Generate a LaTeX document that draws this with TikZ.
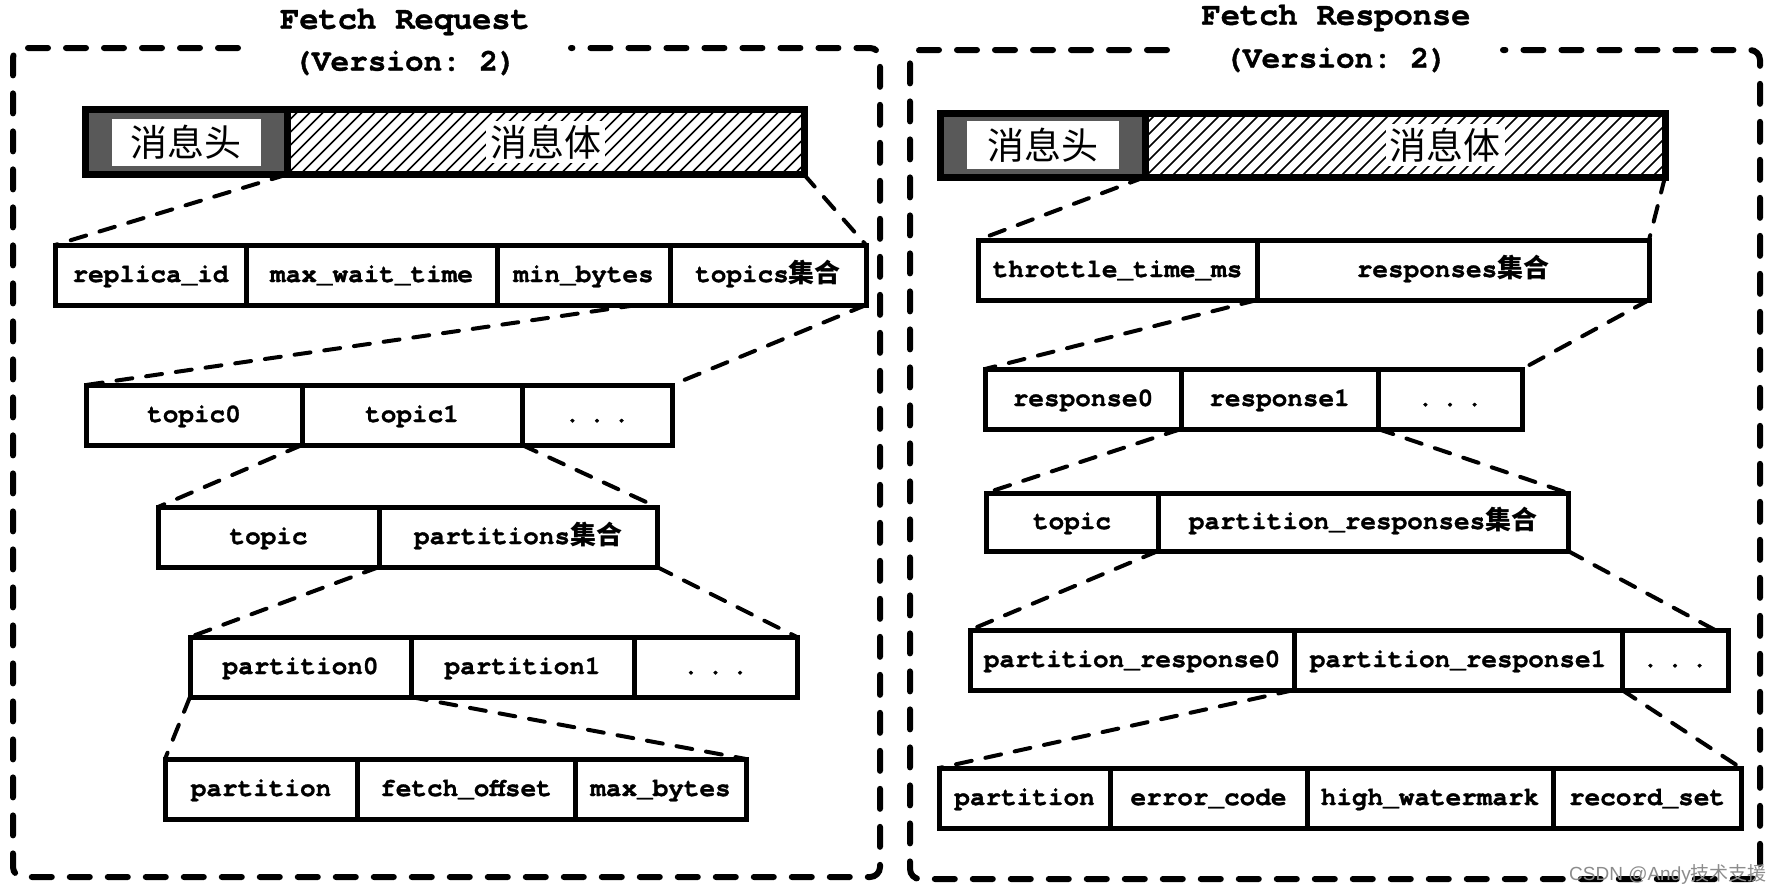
\documentclass[tikz,border=0pt]{standalone}
\usepackage{fontspec}
\usepackage{tikz}
\setmonofont[BoldFeatures={FakeBold=1.2}]{TeX Gyre Cursor}
\newfontfamily\cjk{Noto Sans CJK SC}
\newfontfamily\markfont{Liberation Sans}

\tikzset{
  cell/.style={draw, line width=5pt, outer sep=0pt, inner sep=0pt, minimum height=60pt, text height=19pt, text depth=5pt, anchor=west, font=\fontsize{26}{30}\selectfont\ttfamily\bfseries},
  hdr/.style={draw, line width=7pt, outer sep=0pt, inner sep=0pt, minimum height=65pt, anchor=west},
  hdrtext/.style={fill=white, inner sep=0pt, font=\cjk\fontsize{37}{40}\selectfont},
  link/.style={line width=4pt, dash pattern=on 16pt off 14pt, line cap=round},
  frame/.style={line width=6pt, dash pattern=on 20pt off 18pt, line cap=round, rounded corners=10pt},
  title/.style={font=\fontsize{32}{36}\selectfont\ttfamily\bfseries},
}

\begin{document}
\begin{tikzpicture}[x=1pt, y=-1pt]
\useasboundingbox (0,0) rectangle (1780,894);

% Fetch Request
\node[title] (qtitle) at (405,22) {Fetch Request};
\node[title, font=\fontsize{31}{36}\selectfont\ttfamily\bfseries] (qversion) at (405,63) {(Version: 2)};
\draw[frame] (238,48) -- (13,48) -- (13,877) -- (880,877) -- (880,48) -- (571,48);

\node[hdr, fill=black!65, minimum width=202pt] (qhead) at (85,142) {};
\node[hdr, minimum width=517pt] (qbody) at (qhead.east) {};
\begin{scope}
  \clip (qbody.south west) rectangle (qbody.north east);
  \foreach \d in {-65,-52,...,520}
    \draw[line width=1.5pt] ([xshift=\d pt]qbody.south west) -- ++(65,-65);
\end{scope}
\draw[line width=7pt] (qhead.north west) rectangle (qbody.south east);
\draw[line width=7pt] (qhead.north east) -- (qhead.south east);
\node[hdrtext, minimum width=149pt, minimum height=47pt] (qheadtxt) at (qhead.center) {消息头};
\node[hdrtext, inner sep=4pt] (qbodytxt) at (qbody.center) {消息体};

\node[cell, minimum width=191pt] (qreplica) at (55,275) {replica\_id};
\node[cell, minimum width=251pt] (qwait) at (qreplica.east) {max\_wait\_time};
\node[cell, minimum width=173pt] (qminb) at (qwait.east) {min\_bytes};
\node[cell, minimum width=196pt] (qtopics) at (qminb.east) {topics{\cjk 集合}};

\node[cell, minimum width=216pt] (qtopic0) at (86,415) {topic0};
\node[cell, minimum width=220pt] (qtopic1) at (qtopic0.east) {topic1};
\node[cell, minimum width=150pt] (qtdots) at (qtopic1.east) {.\kern9pt.\kern9pt.};

\node[cell, minimum width=221pt] (qtopic) at (158,537) {topic};
\node[cell, minimum width=278pt] (qparts) at (qtopic.east) {partitions{\cjk 集合}};

\node[cell, minimum width=221pt] (qpart0) at (190,667) {partition0};
\node[cell, minimum width=223pt] (qpart1) at (qpart0.east) {partition1};
\node[cell, minimum width=163pt] (qpdots) at (qpart1.east) {.\kern9pt.\kern9pt.};

\node[cell, minimum width=192pt] (qpartition) at (165,789) {partition};
\node[cell, minimum width=218pt] (qoffset) at (qpartition.east) {fetch\_offset};
\node[cell, minimum width=171pt] (qmaxb) at (qoffset.east) {max\_bytes};

\draw[link] (qhead.south east) -- (qreplica.north west);
\draw[link] (qbody.south east) -- (qtopics.north east);
\draw[link] ([xshift=-33pt]qtopics.south west) -- (qtopic0.north west);
\draw[link] (qtopics.south east) -- (qtdots.north east);
\draw[link] (qtopic1.south west) -- (qtopic.north west);
\draw[link] (qtdots.south west) -- (qparts.north east);
\draw[link] (qparts.south west) -- (qpart0.north west);
\draw[link] (qparts.south east) -- (qpdots.north east);
\draw[link] (qpart0.south west) -- (qpartition.north west);
\draw[link] (qpart1.south west) -- (qmaxb.north east);

% Fetch Response
\node[title] (rtitle) at (1336,18) {Fetch Response};
\node[title, font=\fontsize{31}{36}\selectfont\ttfamily\bfseries] (rversion) at (1336,60) {(Version: 2)};
\draw[frame] (1167,50) -- (910,50) -- (910,879) -- (1760,879) -- (1760,50) -- (1503,50);

\node[hdr, fill=black!65, minimum width=205pt, minimum height=64pt] (rhead) at (940,145) {};
\node[hdr, minimum width=520pt, minimum height=64pt] (rbody) at (rhead.east) {};
\begin{scope}
  \clip (rbody.south west) rectangle (rbody.north east);
  \foreach \d in {-65,-52,...,520}
    \draw[line width=1.5pt] ([xshift=\d pt]rbody.south west) -- ++(65,-65);
\end{scope}
\draw[line width=7pt] (rhead.north west) rectangle (rbody.south east);
\draw[line width=7pt] (rhead.north east) -- (rhead.south east);
\node[hdrtext, minimum width=152pt, minimum height=48pt] (rheadtxt) at (rhead.center) {消息头};
\node[hdrtext, inner sep=4pt] (rbodytxt) at ([xshift=40pt]rbody.center) {消息体};

\node[cell, minimum width=279pt] (rthrottle) at (978,270) {throttle\_time\_ms};
\node[cell, minimum width=392pt] (rresps) at (rthrottle.east) {responses{\cjk 集合}};

\node[cell, minimum width=196pt] (rresp0) at (985,399) {response0};
\node[cell, minimum width=197pt] (rresp1) at (rresp0.east) {response1};
\node[cell, minimum width=144pt] (rrdots) at (rresp1.east) {.\kern9pt.\kern9pt.};

\node[cell, minimum width=172pt, minimum height=58pt] (rtopic) at (986,522) {topic};
\node[cell, minimum width=410pt, minimum height=58pt] (rpresps) at (rtopic.east) {partition\_responses{\cjk 集合}};

\node[cell, minimum width=324pt] (rpresp0) at (970,660) {partition\_response0};
\node[cell, minimum width=328pt] (rpresp1) at (rpresp0.east) {partition\_response1};
\node[cell, minimum width=106pt] (rpdots) at (rpresp1.east) {.\kern9pt.\kern9pt.};

\node[cell, minimum width=171pt] (rpartition) at (939,798) {partition};
\node[cell, minimum width=197pt] (rerror) at (rpartition.east) {error\_code};
\node[cell, minimum width=246pt] (rhigh) at (rerror.east) {high\_watermark};
\node[cell, minimum width=188pt] (rrecord) at (rhigh.east) {record\_set};

\draw[link] (rhead.south east) -- (rthrottle.north west);
\draw[link] (rbody.south east) -- (rresps.north east);
\draw[link] (rresps.south west) -- (rresp0.north west);
\draw[link] (rresps.south east) -- (rrdots.north east);
\draw[link] (rresp1.south west) -- (rtopic.north west);
\draw[link] (rrdots.south west) -- (rpresps.north east);
\draw[link] (rpresps.south west) -- (rpresp0.north west);
\draw[link] (rpresps.south east) -- ([xshift=-13pt]rpdots.north east);
\draw[link] (rpresp1.south west) -- (rpartition.north west);
\draw[link] (rpdots.south west) -- (rrecord.north east);

\node[text=black!45, font=\markfont\fontsize{19}{22}\selectfont] (mark) at (1668,874) {CSDN @Andy{\cjk 技术支援}};
\end{tikzpicture}
\end{document}
